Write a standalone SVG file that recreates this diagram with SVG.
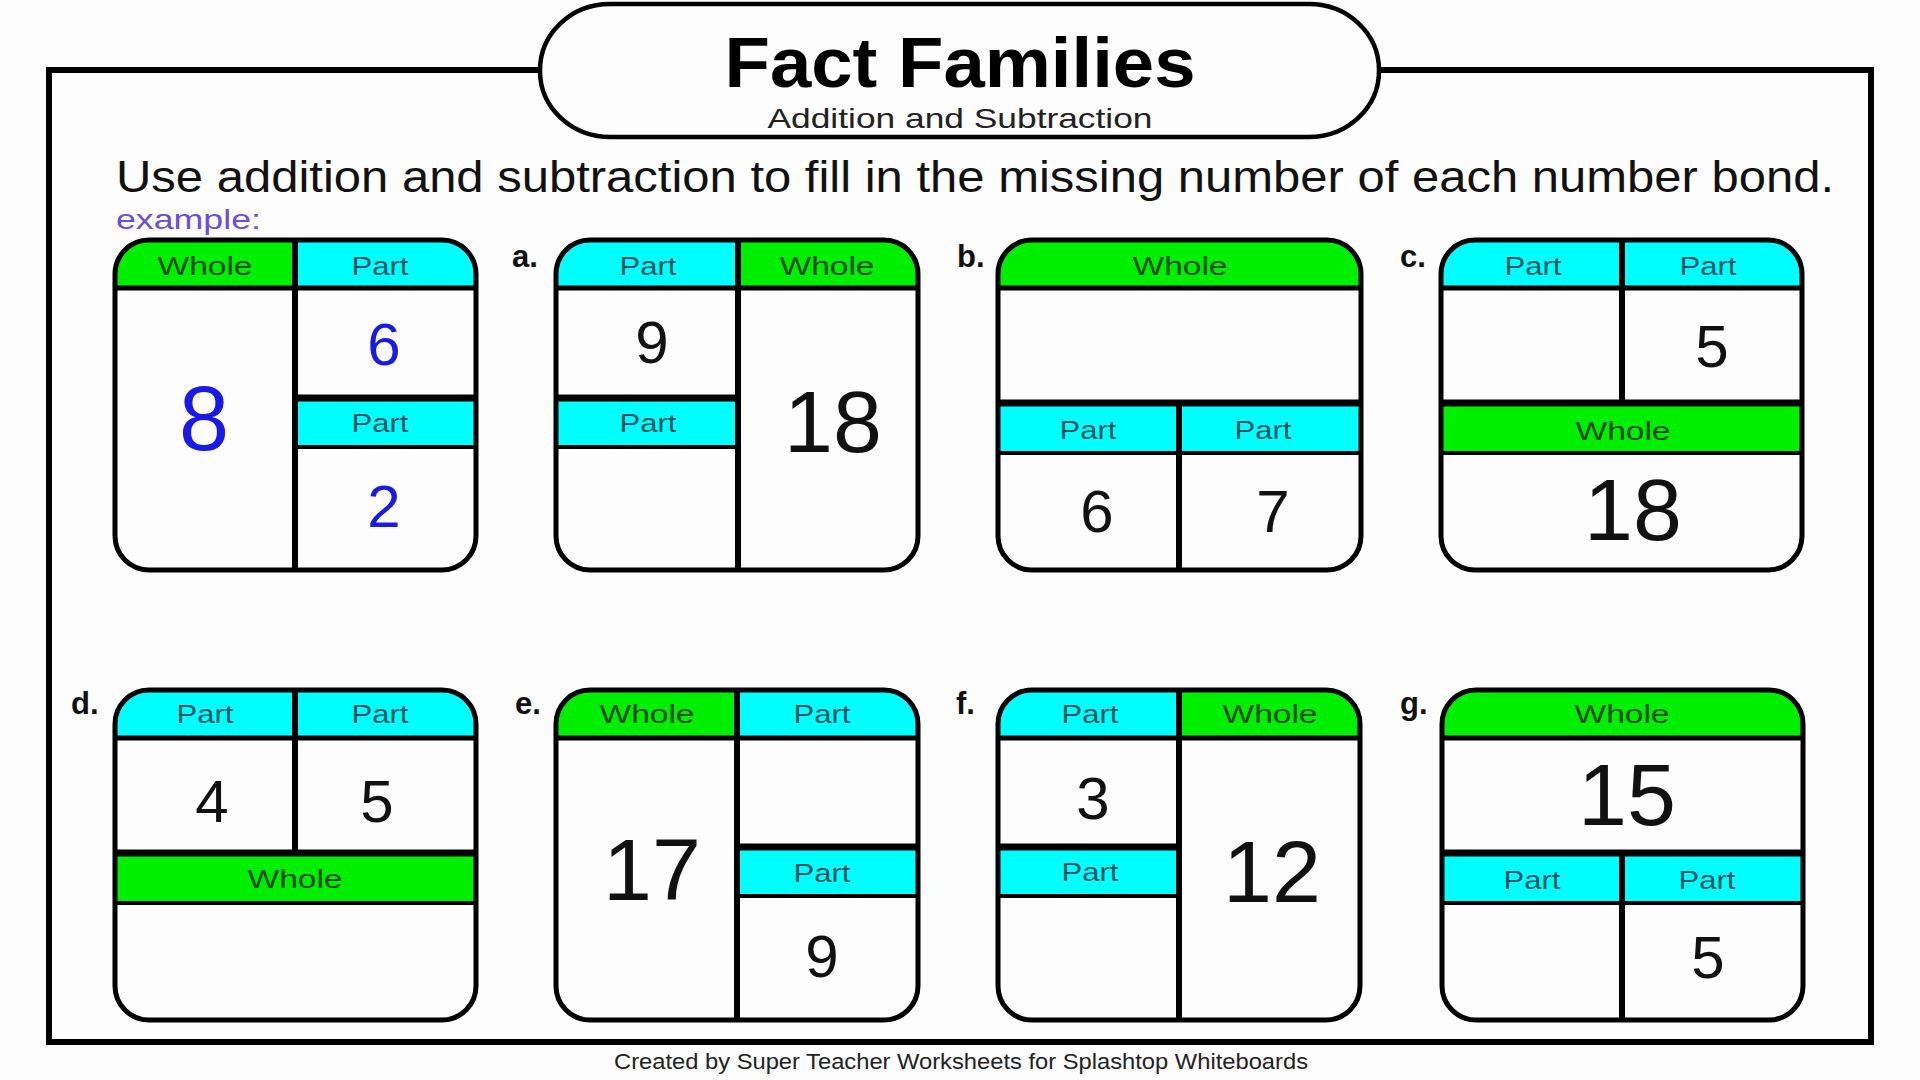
<svg xmlns="http://www.w3.org/2000/svg" width="1920" height="1080" viewBox="0 0 1920 1080">
<style>
  .bg{fill:#fdfdfd}
  .frame{fill:none;stroke:#000;stroke-width:6}
  .pill{fill:#fdfdfd;stroke:#000;stroke-width:4.5}
  .box{fill:none;stroke:#000;stroke-width:5}
  .cell{fill:#fdfdfd}
  .green{fill:#00ee00}
  .cyan{fill:#00ffff}
  .ln{stroke:#000;stroke-width:5;fill:none}
  .thick{stroke:#000;stroke-width:7;fill:none}
  .thin{stroke:#000;stroke-width:4;fill:none}
  .div{stroke:#000;stroke-width:6;fill:none}
  text{font-family:"Liberation Sans",Arial,sans-serif}
  .title{font-size:70px;font-weight:bold;fill:#000}
  .sub{font-size:28px;fill:#222}
  .instr{font-size:44px;fill:#111}
  .ex{font-size:28px;fill:#6a4fd8}
  .foot{font-size:22px;fill:#222}
  .lab{font-size:31px;font-weight:bold;fill:#111}
  .hw{font-size:26px;fill:#0f4a0f;text-anchor:middle}
  .hp{font-size:26px;fill:#0a5560;text-anchor:middle}
  .n{font-size:60px;fill:#111;text-anchor:middle}
  .N{font-size:88px;fill:#111;text-anchor:middle}
  .blue{fill:#1a1ae6}
</style>
<defs>
  <clipPath id="c-ex"><rect x="115" y="240" width="361" height="330" rx="34"/></clipPath>
  <clipPath id="c-a"><rect x="556" y="240" width="362" height="330" rx="34"/></clipPath>
  <clipPath id="c-b"><rect x="998" y="240" width="363" height="330" rx="34"/></clipPath>
  <clipPath id="c-c"><rect x="1441" y="240" width="361" height="330" rx="34"/></clipPath>
  <clipPath id="c-d"><rect x="115" y="690" width="361" height="330" rx="34"/></clipPath>
  <clipPath id="c-e"><rect x="556" y="690" width="362" height="330" rx="34"/></clipPath>
  <clipPath id="c-f"><rect x="998" y="690" width="362" height="330" rx="34"/></clipPath>
  <clipPath id="c-g"><rect x="1442" y="690" width="361" height="330" rx="34"/></clipPath>
</defs>
<rect class="bg" x="0" y="0" width="1920" height="1080"/>
<g id="page">
  <rect class="frame" x="49" y="70" width="1822" height="972"/>
  <rect class="pill" x="540" y="4" width="839" height="133" rx="70" ry="66"/>
  <text class="title" x="960" y="87" text-anchor="middle" textLength="471" lengthAdjust="spacingAndGlyphs">Fact Families</text>
  <text class="sub" x="960" y="128" text-anchor="middle" textLength="385" lengthAdjust="spacingAndGlyphs">Addition and Subtraction</text>
  <text class="instr" x="116" y="192" textLength="1718" lengthAdjust="spacingAndGlyphs">Use addition and subtraction to fill in the missing number of each number bond.</text>
  <text class="ex" x="116" y="229" textLength="145" lengthAdjust="spacingAndGlyphs">example:</text>
  <text class="foot" x="961" y="1069" text-anchor="middle" textLength="694" lengthAdjust="spacingAndGlyphs">Created by Super Teacher Worksheets for Splashtop Whiteboards</text>
  <text class="lab" x="512" y="267">a.</text>
  <text class="lab" x="957" y="267">b.</text>
  <text class="lab" x="1400" y="267">c.</text>
  <text class="lab" x="71" y="714">d.</text>
  <text class="lab" x="515" y="714">e.</text>
  <text class="lab" x="956" y="714">f.</text>
  <text class="lab" x="1400" y="714">g.</text>
</g>

<!-- Example -->
<g id="box-example">
  <g clip-path="url(#c-ex)">
    <rect class="cell" x="115" y="240" width="361" height="330"/>
    <rect class="green" x="115" y="240" width="180" height="48"/>
    <rect class="cyan" x="295" y="240" width="181" height="48"/>
    <rect class="cyan" x="295" y="398" width="181" height="49"/>
    <line class="ln" x1="115" y1="288" x2="476" y2="288"/>
    <line class="thick" x1="295" y1="398" x2="476" y2="398"/>
    <line class="thin" x1="295" y1="447" x2="476" y2="447"/>
    <line class="div" x1="295" y1="240" x2="295" y2="570"/>
  </g>
  <rect class="box" x="115" y="240" width="361" height="330" rx="34"/>
  <text class="hw" x="205" y="275" textLength="95" lengthAdjust="spacingAndGlyphs">Whole</text>
  <text class="hp" x="380" y="275" textLength="57" lengthAdjust="spacingAndGlyphs">Part</text>
  <text class="hp" x="380" y="432" textLength="57" lengthAdjust="spacingAndGlyphs">Part</text>
  <text class="N blue" x="204" y="450" style="font-size:90px">8</text>
  <text class="n blue" x="384" y="365">6</text>
  <text class="n blue" x="384" y="527">2</text>
</g>

<!-- a -->
<g id="box-a">
  <g clip-path="url(#c-a)">
    <rect class="cell" x="556" y="240" width="362" height="330"/>
    <rect class="cyan" x="556" y="240" width="182" height="48"/>
    <rect class="green" x="738" y="240" width="180" height="48"/>
    <rect class="cyan" x="556" y="398" width="182" height="49"/>
    <line class="ln" x1="556" y1="288" x2="918" y2="288"/>
    <line class="thick" x1="556" y1="398" x2="738" y2="398"/>
    <line class="thin" x1="556" y1="447" x2="738" y2="447"/>
    <line class="div" x1="738" y1="240" x2="738" y2="570"/>
  </g>
  <rect class="box" x="556" y="240" width="362" height="330" rx="34"/>
  <text class="hp" x="648" y="275" textLength="57" lengthAdjust="spacingAndGlyphs">Part</text>
  <text class="hw" x="827" y="275" textLength="95" lengthAdjust="spacingAndGlyphs">Whole</text>
  <text class="hp" x="648" y="432" textLength="57" lengthAdjust="spacingAndGlyphs">Part</text>
  <text class="n" x="652" y="363">9</text>
  <text class="N" x="833" y="452">18</text>
</g>

<!-- b -->
<g id="box-b">
  <g clip-path="url(#c-b)">
    <rect class="cell" x="998" y="240" width="363" height="330"/>
    <rect class="green" x="998" y="240" width="363" height="48"/>
    <rect class="cyan" x="998" y="403" width="363" height="50"/>
    <line class="ln" x1="998" y1="288" x2="1361" y2="288"/>
    <line class="thick" x1="998" y1="403" x2="1361" y2="403"/>
    <line class="thin" x1="998" y1="453" x2="1361" y2="453"/>
    <line class="div" x1="1179" y1="403" x2="1179" y2="570"/>
  </g>
  <rect class="box" x="998" y="240" width="363" height="330" rx="34"/>
  <text class="hw" x="1180" y="275" textLength="95" lengthAdjust="spacingAndGlyphs">Whole</text>
  <text class="hp" x="1088" y="439" textLength="57" lengthAdjust="spacingAndGlyphs">Part</text>
  <text class="hp" x="1263" y="439" textLength="57" lengthAdjust="spacingAndGlyphs">Part</text>
  <text class="n" x="1097" y="532">6</text>
  <text class="n" x="1273" y="532">7</text>
</g>

<!-- c -->
<g id="box-c">
  <g clip-path="url(#c-c)">
    <rect class="cell" x="1441" y="240" width="361" height="330"/>
    <rect class="cyan" x="1441" y="240" width="361" height="48"/>
    <rect class="green" x="1441" y="403" width="361" height="50"/>
    <line class="ln" x1="1441" y1="288" x2="1802" y2="288"/>
    <line class="div" x1="1622" y1="240" x2="1622" y2="403"/>
    <line class="thick" x1="1441" y1="403" x2="1802" y2="403"/>
    <line class="thin" x1="1441" y1="453" x2="1802" y2="453"/>
  </g>
  <rect class="box" x="1441" y="240" width="361" height="330" rx="34"/>
  <text class="hp" x="1533" y="275" textLength="57" lengthAdjust="spacingAndGlyphs">Part</text>
  <text class="hp" x="1708" y="275" textLength="57" lengthAdjust="spacingAndGlyphs">Part</text>
  <text class="hw" x="1623" y="440" textLength="95" lengthAdjust="spacingAndGlyphs">Whole</text>
  <text class="n" x="1712" y="367">5</text>
  <text class="N" x="1633" y="540">18</text>
</g>

<!-- d -->
<g id="box-d">
  <g clip-path="url(#c-d)">
    <rect class="cell" x="115" y="690" width="361" height="330"/>
    <rect class="cyan" x="115" y="690" width="361" height="48"/>
    <rect class="green" x="115" y="853" width="361" height="50"/>
    <line class="ln" x1="115" y1="738" x2="476" y2="738"/>
    <line class="div" x1="295" y1="690" x2="295" y2="853"/>
    <line class="thick" x1="115" y1="853" x2="476" y2="853"/>
    <line class="thin" x1="115" y1="903" x2="476" y2="903"/>
  </g>
  <rect class="box" x="115" y="690" width="361" height="330" rx="34"/>
  <text class="hp" x="205" y="723" textLength="57" lengthAdjust="spacingAndGlyphs">Part</text>
  <text class="hp" x="380" y="723" textLength="57" lengthAdjust="spacingAndGlyphs">Part</text>
  <text class="hw" x="295" y="888" textLength="95" lengthAdjust="spacingAndGlyphs">Whole</text>
  <text class="n" x="212" y="822">4</text>
  <text class="n" x="377" y="822">5</text>
</g>

<!-- e -->
<g id="box-e">
  <g clip-path="url(#c-e)">
    <rect class="cell" x="556" y="690" width="362" height="330"/>
    <rect class="green" x="556" y="690" width="181" height="48"/>
    <rect class="cyan" x="737" y="690" width="181" height="48"/>
    <rect class="cyan" x="737" y="847" width="181" height="49"/>
    <line class="ln" x1="556" y1="738" x2="918" y2="738"/>
    <line class="thick" x1="737" y1="847" x2="918" y2="847"/>
    <line class="thin" x1="737" y1="896" x2="918" y2="896"/>
    <line class="div" x1="737" y1="690" x2="737" y2="1020"/>
  </g>
  <rect class="box" x="556" y="690" width="362" height="330" rx="34"/>
  <text class="hw" x="647" y="723" textLength="95" lengthAdjust="spacingAndGlyphs">Whole</text>
  <text class="hp" x="822" y="723" textLength="57" lengthAdjust="spacingAndGlyphs">Part</text>
  <text class="hp" x="822" y="882" textLength="57" lengthAdjust="spacingAndGlyphs">Part</text>
  <text class="N" x="652" y="900">17</text>
  <text class="n" x="822" y="977">9</text>
</g>

<!-- f -->
<g id="box-f">
  <g clip-path="url(#c-f)">
    <rect class="cell" x="998" y="690" width="362" height="330"/>
    <rect class="cyan" x="998" y="690" width="181" height="48"/>
    <rect class="green" x="1179" y="690" width="181" height="48"/>
    <rect class="cyan" x="998" y="847" width="181" height="49"/>
    <line class="ln" x1="998" y1="738" x2="1360" y2="738"/>
    <line class="thick" x1="998" y1="847" x2="1179" y2="847"/>
    <line class="thin" x1="998" y1="896" x2="1179" y2="896"/>
    <line class="div" x1="1179" y1="690" x2="1179" y2="1020"/>
  </g>
  <rect class="box" x="998" y="690" width="362" height="330" rx="34"/>
  <text class="hp" x="1090" y="723" textLength="57" lengthAdjust="spacingAndGlyphs">Part</text>
  <text class="hw" x="1270" y="723" textLength="95" lengthAdjust="spacingAndGlyphs">Whole</text>
  <text class="hp" x="1090" y="881" textLength="57" lengthAdjust="spacingAndGlyphs">Part</text>
  <text class="n" x="1093" y="819">3</text>
  <text class="N" x="1272" y="902">12</text>
</g>

<!-- g -->
<g id="box-g">
  <g clip-path="url(#c-g)">
    <rect class="cell" x="1442" y="690" width="361" height="330"/>
    <rect class="green" x="1442" y="690" width="361" height="48"/>
    <rect class="cyan" x="1442" y="853" width="361" height="50"/>
    <line class="ln" x1="1442" y1="738" x2="1803" y2="738"/>
    <line class="thick" x1="1442" y1="853" x2="1803" y2="853"/>
    <line class="thin" x1="1442" y1="903" x2="1803" y2="903"/>
    <line class="div" x1="1622" y1="853" x2="1622" y2="1020"/>
  </g>
  <rect class="box" x="1442" y="690" width="361" height="330" rx="34"/>
  <text class="hw" x="1622" y="723" textLength="95" lengthAdjust="spacingAndGlyphs">Whole</text>
  <text class="hp" x="1532" y="889" textLength="57" lengthAdjust="spacingAndGlyphs">Part</text>
  <text class="hp" x="1707" y="889" textLength="57" lengthAdjust="spacingAndGlyphs">Part</text>
  <text class="N" x="1627" y="825">15</text>
  <text class="n" x="1708" y="978">5</text>
</g>

<g id="connectors"/>
</svg>
